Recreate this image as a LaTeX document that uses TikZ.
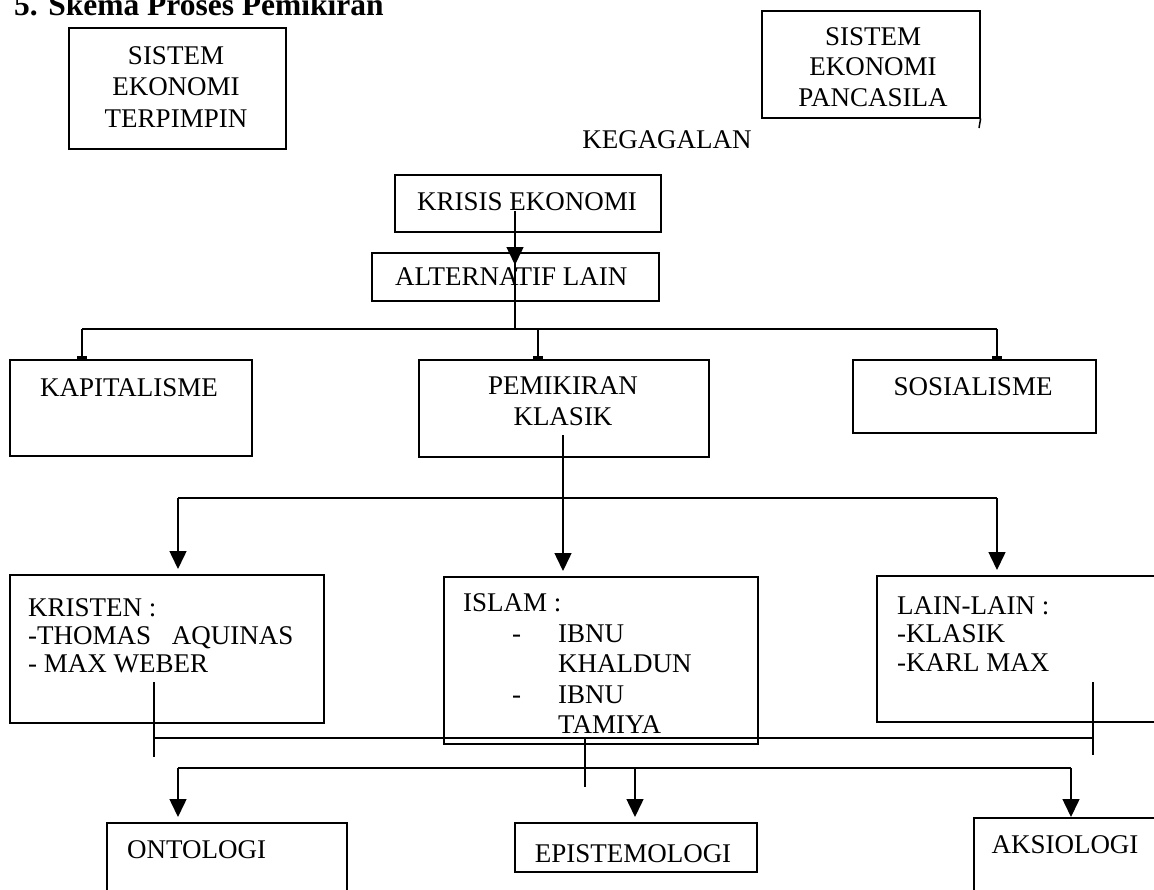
\documentclass[tikz,border=0pt]{standalone}
\usepackage{fontspec}
\setmainfont{Liberation Serif}
\usetikzlibrary{arrows.meta}

\tikzset{
  kotak/.style={draw, line width=1.6pt, inner sep=0pt, anchor=north west},
  teks/.style={inner sep=0pt, font=\fontsize{27}{28}\selectfont},
  garis/.style={line width=1.5pt},
  panah/.style={line width=1.5pt, -{Triangle[width=17pt,length=18pt]}, shorten >=5pt},
  taji/.style={line width=1.5pt, -{Rectangle[length=3pt,width=10pt]}}
}

\begin{document}
\begin{tikzpicture}[x=1pt,y=-1pt]
  \useasboundingbox (0,0) rectangle (1154,889);
  \node[anchor=base west, inner sep=0pt, font=\bfseries\fontsize{31.5}{36}\selectfont] (judul) at (14,15) {5. Skema Proses Pemikiran};

  % sistem lama / sistem baru
  \node[kotak, minimum width=217pt, minimum height=121pt] (terpimpin) at (68,27) {};
  \node[teks, align=center, font=\fontsize{27}{31.5}\selectfont] (tterpimpin) at (176,87) {SISTEM\\EKONOMI\\TERPIMPIN};
  \node[kotak, minimum width=218pt, minimum height=107pt] (pancasila) at (761,10) {};
  \node[teks, align=center, font=\fontsize{27}{30.5}\selectfont] (tpancasila) at (873,67) {SISTEM\\EKONOMI\\PANCASILA};
  \node[teks] (gagal) at (667,140) {KEGAGALAN};

  \node[kotak, minimum width=266pt, minimum height=57pt] (krisis) at (394,174) {};
  \node[teks, anchor=west] (tkrisis) at (417,202) {KRISIS EKONOMI};
  \node[kotak, minimum width=287pt, minimum height=48pt] (alt) at (371,252) {};
  \node[teks, anchor=west] (talt) at (395,277) {ALTERNATIF LAIN};

  % tingkat kedua
  \node[kotak, minimum width=242pt, minimum height=96pt] (kap) at (9,359) {};
  \node[teks] (tkap) at (129,388) {KAPITALISME};
  \node[kotak, minimum width=290pt, minimum height=97pt] (pem) at (418,359) {};
  \node[teks, align=center, font=\fontsize{27}{31}\selectfont] (tpem) at (563,401) {PEMIKIRAN\\KLASIK};
  \node[kotak, minimum width=243pt, minimum height=73pt] (sos) at (852,359) {};
  \node[teks] (tsos) at (973,387) {SOSIALISME};

  % tokoh
  \node[kotak, minimum width=314pt, minimum height=148pt] (kristen) at (9,574) {};
  \node[teks, anchor=west, align=left] (tkristen) at (28,636) {KRISTEN :\\-THOMAS\hspace*{14pt} AQUINAS\\- MAX WEBER};
  \node[kotak, minimum width=314pt, minimum height=167pt] (islam) at (443,576) {};
  \node[teks, anchor=west, align=left, font=\fontsize{27}{30.5}\selectfont] (tislam) at (463,664) {ISLAM :\\\hspace*{49pt}\makebox[46pt][l]{-}IBNU\\\hspace*{95pt}KHALDUN\\\hspace*{49pt}\makebox[46pt][l]{-}IBNU\\\hspace*{95pt}TAMIYA};
  \node[kotak, minimum width=300pt, minimum height=146pt] (lain) at (876,575) {};
  \node[teks, anchor=west, align=left, font=\fontsize{27}{28.5}\selectfont] (tlain) at (897,634) {LAIN-LAIN :\\-KLASIK\\-KARL MAX};

  % cabang filsafat
  \node[kotak, minimum width=240pt, minimum height=100pt] (onto) at (106,822) {};
  \node[teks, anchor=west] (tonto) at (127,850) {ONTOLOGI};
  \node[kotak, minimum width=242pt, minimum height=49pt] (epis) at (514,822) {};
  \node[teks] (tepis) at (633,854) {EPISTEMOLOGI};
  \node[kotak, minimum width=200pt, minimum height=100pt] (aks) at (973,817) {};
  \node[teks] (taks) at (1065,845) {AKSIOLOGI};

  % titik sambungan
  \coordinate (tp) at (979,128);
  \coordinate (j1) at (515,329);
  \coordinate (b1l) at (82,329);
  \coordinate (b1m) at (538,329);
  \coordinate (b1r) at (997,329);
  \coordinate (p1) at (563,435);
  \coordinate (b2l) at (178,498);
  \coordinate (b2m) at (563,498);
  \coordinate (b2r) at (997,498);
  \coordinate (k1) at (154,682);
  \coordinate (k2) at (154,757);
  \coordinate (l1) at (1093,682);
  \coordinate (l2) at (1093,755);
  \coordinate (h1l) at (154,738);
  \coordinate (h1r) at (1093,738);
  \coordinate (h1m) at (585,738);
  \coordinate (h1b) at (585,787);
  \coordinate (b3l) at (178,768);
  \coordinate (b3m) at (635,768);
  \coordinate (b3r) at (1071,768);

  \draw[garis] (pancasila.south east) -- (tp);
  \draw[panah, shorten >=-13pt] (tkrisis.south -| j1) -- (alt.north -| j1);
  \draw[garis] (alt.north -| j1) -- (j1);
  \draw[garis] (b1l) -- (b1r);
  \draw[taji] (b1l) -- (kap.north -| b1l);
  \draw[taji] (b1m) -- (pem.north -| b1m);
  \draw[taji] (b1r) -- (sos.north -| b1r);

  \draw[garis] (p1) -- (b2m);
  \draw[garis] (b2l) -- (b2r);
  \draw[panah] (b2l) -- (kristen.north -| b2l);
  \draw[panah] (b2m) -- (islam.north -| b2m);
  \draw[panah] (b2r) -- (lain.north -| b2r);

  \draw[garis] (k1) -- (k2);
  \draw[garis] (l1) -- (l2);
  \draw[garis] (h1l) -- (h1r);
  \draw[garis] (h1m) -- (h1b);
  \draw[garis] (b3l) -- (b3r);
  \draw[panah] (b3l) -- (onto.north -| b3l);
  \draw[panah] (b3m) -- (epis.north -| b3m);
  \draw[panah, shorten >=0pt] (b3r) -- (aks.north -| b3r);
\end{tikzpicture}
\end{document}
